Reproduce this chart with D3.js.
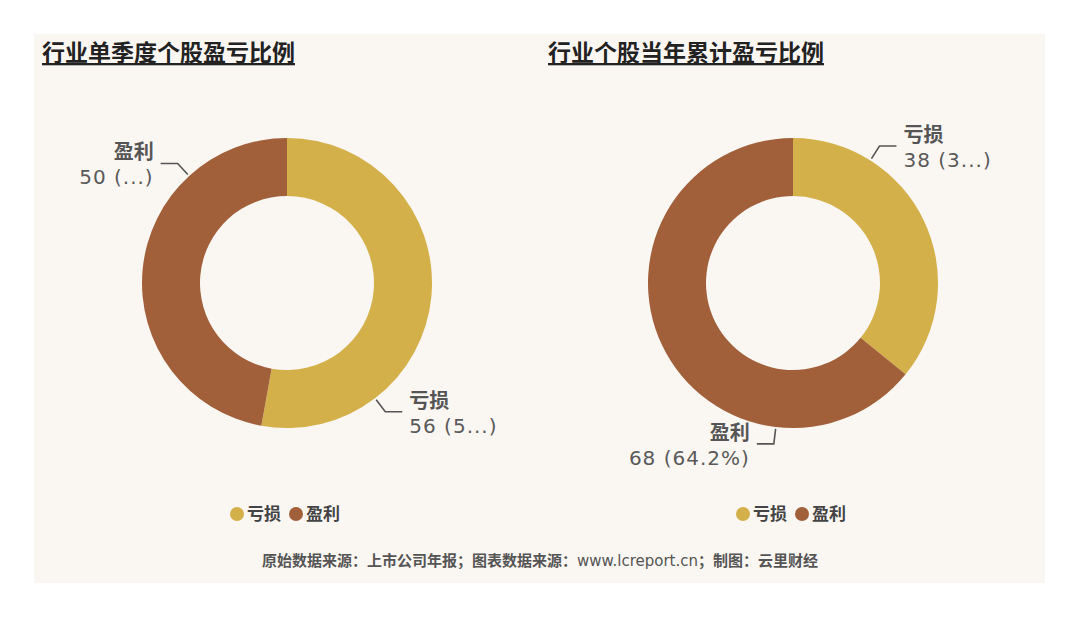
<!DOCTYPE html>
<html><head><meta charset="utf-8">
<script src="https://cdn.jsdelivr.net/npm/d3@7"></script>
<style>
html,body{margin:0;padding:0;background:#fff;}
text{font-family:"Noto Sans CJK SC","Noto Sans",sans-serif;}
.lbl{font-family:"DejaVu Sans","Noto Sans CJK SC",sans-serif;}
</style></head>
<body>
<svg id="c" width="1080" height="618"></svg>
<script>
const categories = ["亏损", "盈利"];
const colors = ["#d4b04a", "#a1603a"];
const titles = ["行业单季度个股盈亏比例", "行业个股当年累计盈亏比例"];
const quarterValues = [56, 50];
const yearValues = [38, 68];
const quarterDetail = ["56 (5...)", "50 (...)"];
const yearDetail = ["38 (3...)", "68 (64.2%)"];
const labelFrac = [0.75, 0.25];
const footer = [["原始数据来源：上市公司年报；图表数据来源：", true], ["www.lcreport.cn", false], ["；制图：云里财经", true]];

const svg = d3.select("#c");
svg.append("rect").attr("x", 34).attr("y", 34).attr("width", 1011).attr("height", 549).attr("fill", "#faf6f2");

const charts = [
  {title: titles[0], values: quarterValues, detail: quarterDetail, frac: labelFrac[0], cx: 287, tx: 42},
  {title: titles[1], values: yearValues, detail: yearDetail, frac: labelFrac[1], cx: 793, tx: 548}
];
const cy = 283, rOut = 145, rIn = 87;
const pie = d3.pie().sort(null).value(d => d.v);
const arc = d3.arc().innerRadius(rIn).outerRadius(rOut);

charts.forEach(ch => {
  svg.append("text").attr("x", ch.tx).attr("y", 61).attr("font-size", 23).attr("font-weight", 700)
    .attr("fill", "#222").style("text-decoration", "underline").text(ch.title);
  const g = svg.append("g").attr("transform", `translate(${ch.cx},${cy})`);
  const data = pie(categories.map((c, i) => ({c, v: ch.values[i], color: colors[i], detail: ch.detail[i]})));
  g.selectAll("path").data(data).join("path").attr("d", arc).attr("fill", d => d.data.color);
  data.forEach(d => {
    const a = d.startAngle + ch.frac * (d.endAngle - d.startAngle);
    const s = Math.sin(a), c = -Math.cos(a);
    const p0 = [s * 147, c * 147], p1 = [s * 162, c * 162];
    const dir = s >= 0 ? 1 : -1;
    const p2 = [p1[0] + dir * 17, p1[1]];
    g.append("polyline").attr("points", [p0, p1, p2].map(p => p.join(",")).join(" "))
      .attr("fill", "none").attr("stroke", "#555").attr("stroke-width", 1.6);
    const tx = p2[0] + dir * 7;
    const anchor = dir > 0 ? "start" : "end";
    g.append("text").attr("class", "lbl").attr("x", tx).attr("y", p1[1] - 4).attr("text-anchor", anchor)
      .attr("font-size", 20).attr("fill", "#555").attr("font-weight", 600).text(d.data.c);
    g.append("text").attr("class", "lbl").attr("x", tx).attr("y", p1[1] + 21).attr("text-anchor", anchor)
      .attr("font-size", 20).attr("fill", "#5a5a5a").attr("letter-spacing", 1).text(d.data.detail);
  });
  // legend
  const lg = svg.append("g");
  let x = 0;
  categories.forEach((c, i) => {
    lg.append("circle").attr("cx", x + 7).attr("cy", 514).attr("r", 7).attr("fill", colors[i]);
    const t = lg.append("text").attr("x", x + 17).attr("y", 520).attr("font-size", 17).attr("font-weight", 600)
      .attr("fill", "#444").text(c);
    x += 17 + t.node().getComputedTextLength() + 8;
  });
  const w = x - 8;
  lg.attr("transform", `translate(${ch.cx - 2 - w / 2},0)`);
});

const ft = svg.append("text").attr("x", 540).attr("y", 566).attr("text-anchor", "middle")
  .attr("font-size", 15).attr("fill", "#555");
footer.forEach(([t, b]) => ft.append("tspan").attr("font-weight", b ? 700 : 400)
  .style("font-family", b ? null : "'DejaVu Sans',sans-serif").text(t));
</script>
</body></html>
